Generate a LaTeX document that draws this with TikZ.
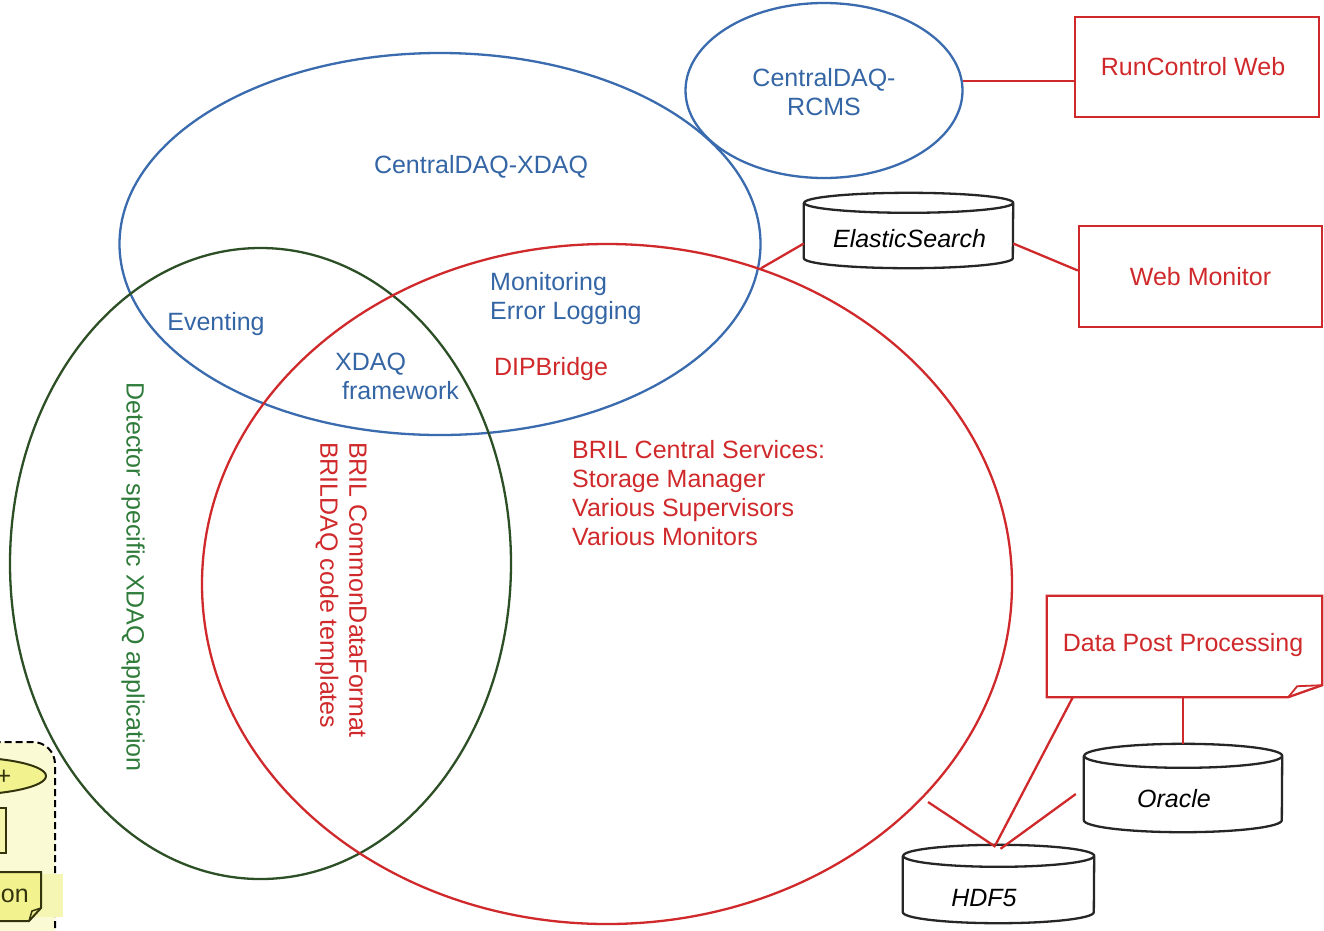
\documentclass[tikz,border=0pt]{standalone}
\usepackage{fontspec}
\setmainfont{Liberation Sans}
\usetikzlibrary{shapes.geometric}

\definecolor{xblue}{HTML}{3A6BAE}
\definecolor{xbluetext}{HTML}{3465A4}
\definecolor{xred}{HTML}{D0292B}
\definecolor{xgreen}{HTML}{2D4F26}
\definecolor{xgreentext}{HTML}{2E7B3A}
\definecolor{xbox}{HTML}{FAFAD4}
\definecolor{xband}{HTML}{F6F6B4}
\definecolor{xyel}{HTML}{F2F28E}
\definecolor{xolive}{HTML}{33330E}

% database cylinder drawn round a named rectangle: #1 name, #2 half width, #3 cap radius
\newcommand{\dbshape}[3]{%
  \filldraw[db] ([yshift=-#3]#1.north west) -- ([yshift=#3]#1.south west)
    arc[start angle=180, end angle=360, x radius=#2, y radius=#3]
    -- ([yshift=-#3]#1.north east)
    arc[start angle=0, end angle=360, x radius=#2, y radius=#3];}

\begin{document}
\begin{tikzpicture}[x=1pt, y=-1pt,
  font=\fontsize{25}{29}\selectfont,
  ring/.style={ellipse, draw, line width=2.3pt, inner sep=0pt},
  box/.style={rectangle, draw=xred, line width=2.3pt, inner sep=0pt, text=xred},
  holder/.style={rectangle, inner sep=0pt},
  db/.style={draw=black!85, line width=2.3pt, fill=white},
  link/.style={draw=xred, line width=2.3pt},
  lbl/.style={inner sep=0pt, align=left}]

\useasboundingbox (0,0) rectangle (1324,930);
\clip (0,0) rectangle (1324,930);

% partly visible legend group, bottom left
\draw[dashed, dash pattern=on 7pt off 4pt, line width=2pt, fill=xbox, rounded corners=22pt]
  (-120,742) rectangle (55,1010);
\draw[draw=xolive, line width=2pt, fill=xyel] (-40,776) ellipse [x radius=86pt, y radius=19pt];
\node[lbl, text=xolive] (plus) at (4,777) {+};
\draw[draw=xolive, line width=2pt, fill=xyel!55!xbox] (-120,808) rectangle (6,853);
\fill[xband] (-20,874) rectangle (63,917);
\draw[draw=xolive, line width=2pt, fill=xyel]
  (-120,872) -- (41,872) -- (41,908) -- (29,921) -- (-120,921) -- cycle;
\draw[draw=xolive, line width=1.5pt] (41,908) -- (32,911) -- (29,921);
\node[lbl, text=xolive, anchor=east] (legtxt) at (29,896) {on};

% overlapping domains
\node[ring, draw=xblue, minimum width=641pt, minimum height=382pt] (xdaq) at (440,244) {};
\node[ring, draw=xblue, minimum width=277pt, minimum height=175pt] (rcms) at (824,90.5) {};
\node[ring, draw=xgreen, minimum width=501pt, minimum height=631pt] (det) at (260.5,563.5) {};
\node[ring, draw=xred, minimum width=810pt, minimum height=680pt] (bril) at (607,584) {};

% labels inside the domains
\node[lbl, text=xbluetext, align=center] (rcmstxt) at (824,92.5) {CentralDAQ-\\RCMS};
\node[lbl, text=xbluetext] (xdaqtxt) at (481,167) {CentralDAQ-XDAQ};
\node[lbl, text=xbluetext] (evt) at (216,324) {Eventing};
\node[lbl, text=xbluetext, anchor=west] (mon) at (490,299) {Monitoring\\Error Logging};
\node[lbl, text=xbluetext, anchor=west] (fw) at (335,376) {XDAQ\\\hspace*{7pt}framework};
\node[lbl, text=xred] (dip) at (551,369) {DIPBridge};
\node[lbl, text=xred, anchor=west] (svc) at (572,493)
  {BRIL Central Services:\\Storage Manager\\Various Supervisors\\Various Monitors};
\node[lbl, text=xgreentext, rotate=-90] (dettxt) at (133,577) {Detector specific XDAQ application};
\node[lbl, text=xred, rotate=-90] (cdf) at (341,590) {BRIL CommonDataFormat\\BRILDAQ code templates};

% web front ends
\node[box, minimum width=244pt, minimum height=100pt] (rcw) at (1197,67) {\hspace*{-8pt}RunControl Web};
\node[box, minimum width=243pt, minimum height=101pt] (wm) at (1200.5,276.5) {Web Monitor};

% data post processing note
\node[holder, minimum width=275pt, minimum height=101pt] (dpp) at (1184.5,646.5) {};
\draw[link] (dpp.north west) -- (dpp.north east) -- ([yshift=12pt]dpp.south east)
  -- ([xshift=-34pt]dpp.south east) -- (dpp.south west) -- cycle;
\draw[draw=xred, line width=1.8pt] ([xshift=-34pt]dpp.south east) -- ([xshift=-25pt, yshift=11pt]dpp.south east)
  -- ([yshift=12pt]dpp.south east);
\node[lbl, text=xred] (dpptxt) at (1183,645) {Data Post Processing};

% storage back ends
\node[holder, minimum width=209pt, minimum height=75pt] (es) at (908.5,230.5) {};
\dbshape{es}{104.5pt}{10pt}
\node[lbl] (estxt) at (909.5,239) {\itshape ElasticSearch};

\node[holder, minimum width=198pt, minimum height=88pt] (orc) at (1183,788) {};
\dbshape{orc}{99pt}{12pt}
\node[lbl] (orctxt) at (1174,799) {\itshape Oracle};

\node[holder, minimum width=191pt, minimum height=78pt] (hdf) at (998.5,884) {};
\dbshape{hdf}{95.5pt}{11pt}
\node[lbl] (hdftxt) at (984,898) {\itshape HDF5};

% connectors
\coordinate (brilout) at (928,802);
\draw[link] (rcms.4) -- (rcms.4 -| rcw.west);
\draw[link] ([yshift=-13pt]es.west) -- (bril.64.7);
\draw[link] ([yshift=-13pt]es.east) -- ([yshift=6pt]wm.west);
\draw[link] (orc.north) -- (orc.north |- dpp.south);
\draw[link] ([xshift=26pt]dpp.south west) -- ([xshift=-3pt]hdf.north);
\draw[link] (brilout) -- ([xshift=-3pt, yshift=-2pt]hdf.north);
\draw[link] ([xshift=-8pt, yshift=-6pt]orc.west) -- ([xshift=2pt, yshift=-4pt]hdf.north);

\end{tikzpicture}
\end{document}
